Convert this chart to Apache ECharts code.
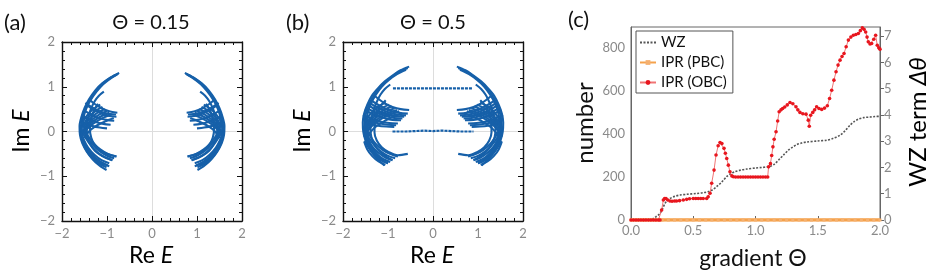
<!DOCTYPE html>
<html><head><meta charset="utf-8">
<script src="https://cdn.jsdelivr.net/npm/echarts@6/dist/echarts.min.js"></script>
<style>html,body{margin:0;padding:0;background:#fff}#c{width:937px;height:276px}</style>
</head><body><div id="c"></div>
<script>
// ---------- DATA ----------
const spectrumTicks = [-2, -1, 0, 1, 2];
const thetaTicks = [0, 0.5, 1.0, 1.5, 2.0];

// Panel (a) Θ=0.15 : spectrum curves (Re E, Im E), right cluster
const specA_R = [
  [[0.73,1.31],[0.92,1.21],[1.1,1.08],[1.26,0.92],[1.4,0.72],[1.5,0.52],[1.57,0.32],[1.61,0.12],[1.6,-0.08],[1.55,-0.26],[1.45,-0.45],[1.32,-0.62],[1.17,-0.76],[1.01,-0.86]],
  [[0.75,1.29],[0.95,1.18],[1.13,1.04],[1.28,0.86],[1.41,0.66],[1.5,0.46],[1.56,0.26],[1.58,0.06],[1.56,-0.14],[1.48,-0.33],[1.37,-0.5],[1.22,-0.65],[1.05,-0.76]],
  [[0.78,1.27],[0.98,1.14],[1.15,0.99],[1.3,0.8],[1.42,0.6],[1.5,0.4],[1.55,0.2],[1.56,0.0],[1.52,-0.2],[1.43,-0.38],[1.3,-0.55],[1.14,-0.68],[0.95,-0.78]],
  [[1.07,0.89],[1.18,0.8],[1.27,0.68],[1.35,0.52],[1.42,0.32],[1.45,0.12],[1.44,-0.08],[1.38,-0.27],[1.27,-0.43],[1.1,-0.55],[0.88,-0.64]],
  [[1.2,0.62],[1.3,0.45],[1.36,0.25],[1.38,0.05],[1.35,-0.14],[1.27,-0.3],[1.12,-0.44],[0.94,-0.52],[0.79,-0.56]],
  [[0.77,0.42],[0.95,0.45],[1.12,0.52],[1.28,0.62],[1.4,0.72]],
  [[0.8,0.38],[1.0,0.4],[1.18,0.46],[1.35,0.55],[1.48,0.64]],
  [[0.79,0.33],[0.98,0.35],[1.15,0.41],[1.32,0.5],[1.46,0.6]],
  [[0.84,0.24],[1.02,0.26],[1.2,0.31],[1.37,0.39],[1.52,0.48]],
  [[0.92,0.15],[1.08,0.17],[1.25,0.21],[1.42,0.28],[1.57,0.36]],
  [[1.0,0.07],[1.16,0.09],[1.32,0.12],[1.47,0.17],[1.6,0.22]],
  [[0.85,0.3],[1.05,0.22],[1.25,0.12],[1.4,0.0],[1.5,-0.15]],
  [[0.9,0.38],[1.1,0.3],[1.3,0.18],[1.45,0.05],[1.55,-0.1]],
  [[0.95,0.42],[1.15,0.33],[1.34,0.2],[1.48,0.06],[1.56,-0.08]],
  [[1.0,0.46],[1.2,0.36],[1.38,0.22],[1.52,0.05],[1.58,-0.05]],
  [[1.05,0.5],[1.24,0.4],[1.41,0.25],[1.53,0.08]],
  [[1.1,0.55],[1.28,0.44],[1.44,0.28],[1.55,0.1]],
  [[1.15,0.6],[1.33,0.48],[1.47,0.32],[1.57,0.14]],
  [[0.79,-0.56],[0.98,-0.5],[1.15,-0.4],[1.3,-0.26],[1.42,-0.1],[1.5,0.05]],
  [[0.84,-0.6],[1.02,-0.53],[1.18,-0.43],[1.33,-0.28],[1.45,-0.12],[1.52,0.03]],
  [[0.88,-0.64],[1.06,-0.57],[1.22,-0.46],[1.36,-0.31],[1.47,-0.15],[1.55,0.0]],
  [[0.95,-0.71],[1.12,-0.64],[1.28,-0.52],[1.42,-0.36],[1.52,-0.18],[1.58,-0.02]],
  [[0.98,-0.76],[1.15,-0.68],[1.31,-0.55],[1.45,-0.38],[1.54,-0.19]],
  [[1.01,-0.8],[1.18,-0.72],[1.34,-0.58],[1.47,-0.4],[1.56,-0.2]]
];
// Panel (a) left cluster
const specA_L = [
  [[-0.73,1.31],[-0.92,1.21],[-1.1,1.08],[-1.26,0.92],[-1.4,0.72],[-1.5,0.52],[-1.57,0.32],[-1.61,0.12],[-1.6,-0.08],[-1.55,-0.26],[-1.45,-0.45],[-1.32,-0.62],[-1.17,-0.76],[-1.01,-0.86]],
  [[-0.75,1.29],[-0.95,1.18],[-1.13,1.04],[-1.28,0.86],[-1.41,0.66],[-1.5,0.46],[-1.56,0.26],[-1.58,0.06],[-1.56,-0.14],[-1.48,-0.33],[-1.37,-0.5],[-1.22,-0.65],[-1.05,-0.76]],
  [[-0.78,1.27],[-0.98,1.14],[-1.15,0.99],[-1.3,0.8],[-1.42,0.6],[-1.5,0.4],[-1.55,0.2],[-1.56,0.0],[-1.52,-0.2],[-1.43,-0.38],[-1.3,-0.55],[-1.14,-0.68],[-0.95,-0.78]],
  [[-1.07,0.89],[-1.18,0.8],[-1.27,0.68],[-1.35,0.52],[-1.42,0.32],[-1.45,0.12],[-1.44,-0.08],[-1.38,-0.27],[-1.27,-0.43],[-1.1,-0.55],[-0.88,-0.64]],
  [[-1.2,0.62],[-1.3,0.45],[-1.36,0.25],[-1.38,0.05],[-1.35,-0.14],[-1.27,-0.3],[-1.12,-0.44],[-0.94,-0.52],[-0.79,-0.56]],
  [[-0.77,0.42],[-0.95,0.45],[-1.12,0.52],[-1.28,0.62],[-1.4,0.72]],
  [[-0.8,0.38],[-1.0,0.4],[-1.18,0.46],[-1.35,0.55],[-1.48,0.64]],
  [[-0.79,0.33],[-0.98,0.35],[-1.15,0.41],[-1.32,0.5],[-1.46,0.6]],
  [[-0.84,0.24],[-1.02,0.26],[-1.2,0.31],[-1.37,0.39],[-1.52,0.48]],
  [[-0.92,0.15],[-1.08,0.17],[-1.25,0.21],[-1.42,0.28],[-1.57,0.36]],
  [[-1.0,0.07],[-1.16,0.09],[-1.32,0.12],[-1.47,0.17],[-1.6,0.22]],
  [[-0.85,0.3],[-1.05,0.22],[-1.25,0.12],[-1.4,0.0],[-1.5,-0.15]],
  [[-0.9,0.38],[-1.1,0.3],[-1.3,0.18],[-1.45,0.05],[-1.55,-0.1]],
  [[-0.95,0.42],[-1.15,0.33],[-1.34,0.2],[-1.48,0.06],[-1.56,-0.08]],
  [[-1.0,0.46],[-1.2,0.36],[-1.38,0.22],[-1.52,0.05],[-1.58,-0.05]],
  [[-1.05,0.5],[-1.24,0.4],[-1.41,0.25],[-1.53,0.08]],
  [[-1.1,0.55],[-1.28,0.44],[-1.44,0.28],[-1.55,0.1]],
  [[-1.15,0.6],[-1.33,0.48],[-1.47,0.32],[-1.57,0.14]],
  [[-0.79,-0.56],[-0.98,-0.5],[-1.15,-0.4],[-1.3,-0.26],[-1.42,-0.1],[-1.5,0.05]],
  [[-0.84,-0.6],[-1.02,-0.53],[-1.18,-0.43],[-1.33,-0.28],[-1.45,-0.12],[-1.52,0.03]],
  [[-0.88,-0.64],[-1.06,-0.57],[-1.22,-0.46],[-1.36,-0.31],[-1.47,-0.15],[-1.55,0.0]],
  [[-0.95,-0.71],[-1.12,-0.64],[-1.28,-0.52],[-1.42,-0.36],[-1.52,-0.18],[-1.58,-0.02]],
  [[-0.98,-0.76],[-1.15,-0.68],[-1.31,-0.55],[-1.45,-0.38],[-1.54,-0.19]],
  [[-1.01,-0.8],[-1.18,-0.72],[-1.34,-0.58],[-1.47,-0.4],[-1.56,-0.2]]
];

// Panel (b) Θ=0.5 : right cluster
const specB_R = [
  [[0.53,1.45],[0.72,1.37],[0.9,1.25],[1.07,1.12],[1.22,0.97],[1.36,0.8],[1.46,0.6],[1.53,0.4],[1.56,0.2],[1.55,0.0],[1.5,-0.2],[1.42,-0.37],[1.31,-0.53],[1.2,-0.65],[1.08,-0.76]],
  [[0.56,1.42],[0.76,1.33],[0.94,1.2],[1.1,1.06],[1.25,0.9],[1.37,0.71],[1.46,0.51],[1.51,0.31],[1.52,0.11],[1.5,-0.09],[1.44,-0.28],[1.34,-0.44],[1.22,-0.58],[1.05,-0.7]],
  [[0.6,1.38],[0.8,1.28],[0.98,1.15],[1.14,1.0],[1.27,0.82],[1.38,0.62],[1.45,0.42],[1.48,0.22],[1.48,0.02],[1.44,-0.18],[1.36,-0.36],[1.25,-0.5],[1.14,-0.62],[1.0,-0.71]],
  [[0.95,1.05],[1.07,0.95],[1.17,0.82],[1.25,0.66],[1.32,0.48],[1.37,0.28],[1.39,0.08],[1.37,-0.12],[1.3,-0.3],[1.18,-0.45],[1.04,-0.56],[0.9,-0.64]],
  [[1.05,0.7],[1.18,0.55],[1.26,0.38],[1.3,0.18],[1.3,-0.02],[1.25,-0.2],[1.14,-0.35],[0.98,-0.46],[0.78,-0.53],[0.56,-0.5]],
  [[0.53,0.48],[0.72,0.5],[0.9,0.55],[1.06,0.62],[1.2,0.72],[1.3,0.8]],
  [[0.56,0.4],[0.75,0.42],[0.93,0.46],[1.1,0.53],[1.26,0.62],[1.38,0.7]],
  [[0.6,0.36],[0.79,0.38],[0.97,0.42],[1.14,0.49],[1.3,0.57],[1.42,0.65]],
  [[0.64,0.33],[0.82,0.34],[1.0,0.38],[1.17,0.44],[1.33,0.52],[1.45,0.6]],
  [[0.68,0.29],[0.86,0.3],[1.04,0.34],[1.21,0.4],[1.37,0.47],[1.49,0.54]],
  [[0.71,0.25],[0.9,0.26],[1.08,0.3],[1.25,0.35],[1.4,0.42],[1.52,0.48]],
  [[0.78,0.18],[0.97,0.19],[1.15,0.22],[1.32,0.27],[1.46,0.32],[1.56,0.36]],
  [[0.82,0.14],[1.0,0.15],[1.18,0.18],[1.35,0.22],[1.5,0.27]],
  [[0.86,0.1],[1.04,0.11],[1.22,0.13],[1.38,0.17],[1.52,0.21]],
  [[0.7,0.4],[0.9,0.33],[1.1,0.22],[1.28,0.1],[1.42,-0.05],[1.5,-0.18]],
  [[0.75,0.45],[0.95,0.38],[1.15,0.28],[1.33,0.15],[1.46,0.0],[1.53,-0.12]],
  [[0.8,0.48],[1.0,0.41],[1.2,0.3],[1.37,0.16],[1.49,0.0]],
  [[0.85,0.52],[1.05,0.44],[1.25,0.32],[1.4,0.18],[1.52,0.02]],
  [[0.92,0.56],[1.11,0.47],[1.3,0.34],[1.44,0.19],[1.54,0.04]],
  [[0.98,0.6],[1.17,0.5],[1.34,0.36],[1.47,0.2],[1.55,0.06]],
  [[1.05,0.65],[1.24,0.54],[1.4,0.38],[1.51,0.22]],
  [[0.78,-0.56],[0.96,-0.5],[1.12,-0.41],[1.27,-0.28],[1.38,-0.13],[1.46,0.02]],
  [[0.84,-0.6],[1.01,-0.54],[1.17,-0.44],[1.31,-0.3],[1.42,-0.15],[1.49,0.0]],
  [[0.9,-0.64],[1.06,-0.58],[1.22,-0.47],[1.35,-0.33],[1.45,-0.17],[1.52,-0.02]],
  [[0.95,-0.68],[1.11,-0.61],[1.26,-0.5],[1.39,-0.35],[1.48,-0.18]],
  [[1.0,-0.71],[1.16,-0.64],[1.3,-0.53],[1.42,-0.38],[1.51,-0.2]],
  [[1.06,-0.75],[1.21,-0.67],[1.35,-0.55],[1.46,-0.4],[1.53,-0.22]]
];
// Panel (b) left cluster
const specB_L = [
  [[-0.53,1.45],[-0.72,1.37],[-0.9,1.25],[-1.07,1.12],[-1.22,0.97],[-1.36,0.8],[-1.46,0.6],[-1.53,0.4],[-1.56,0.2],[-1.55,0.0],[-1.5,-0.2],[-1.42,-0.37],[-1.31,-0.53],[-1.2,-0.65],[-1.08,-0.76]],
  [[-0.56,1.42],[-0.76,1.33],[-0.94,1.2],[-1.1,1.06],[-1.25,0.9],[-1.37,0.71],[-1.46,0.51],[-1.51,0.31],[-1.52,0.11],[-1.5,-0.09],[-1.44,-0.28],[-1.34,-0.44],[-1.22,-0.58],[-1.05,-0.7]],
  [[-0.6,1.38],[-0.8,1.28],[-0.98,1.15],[-1.14,1.0],[-1.27,0.82],[-1.38,0.62],[-1.45,0.42],[-1.48,0.22],[-1.48,0.02],[-1.44,-0.18],[-1.36,-0.36],[-1.25,-0.5],[-1.14,-0.62],[-1.0,-0.71]],
  [[-0.95,1.05],[-1.07,0.95],[-1.17,0.82],[-1.25,0.66],[-1.32,0.48],[-1.37,0.28],[-1.39,0.08],[-1.37,-0.12],[-1.3,-0.3],[-1.18,-0.45],[-1.04,-0.56],[-0.9,-0.64]],
  [[-1.05,0.7],[-1.18,0.55],[-1.26,0.38],[-1.3,0.18],[-1.3,-0.02],[-1.25,-0.2],[-1.14,-0.35],[-0.98,-0.46],[-0.78,-0.53],[-0.56,-0.5]],
  [[-0.53,0.48],[-0.72,0.5],[-0.9,0.55],[-1.06,0.62],[-1.2,0.72],[-1.3,0.8]],
  [[-0.56,0.4],[-0.75,0.42],[-0.93,0.46],[-1.1,0.53],[-1.26,0.62],[-1.38,0.7]],
  [[-0.6,0.36],[-0.79,0.38],[-0.97,0.42],[-1.14,0.49],[-1.3,0.57],[-1.42,0.65]],
  [[-0.64,0.33],[-0.82,0.34],[-1.0,0.38],[-1.17,0.44],[-1.33,0.52],[-1.45,0.6]],
  [[-0.68,0.29],[-0.86,0.3],[-1.04,0.34],[-1.21,0.4],[-1.37,0.47],[-1.49,0.54]],
  [[-0.71,0.25],[-0.9,0.26],[-1.08,0.3],[-1.25,0.35],[-1.4,0.42],[-1.52,0.48]],
  [[-0.78,0.18],[-0.97,0.19],[-1.15,0.22],[-1.32,0.27],[-1.46,0.32],[-1.56,0.36]],
  [[-0.82,0.14],[-1.0,0.15],[-1.18,0.18],[-1.35,0.22],[-1.5,0.27]],
  [[-0.86,0.1],[-1.04,0.11],[-1.22,0.13],[-1.38,0.17],[-1.52,0.21]],
  [[-0.7,0.4],[-0.9,0.33],[-1.1,0.22],[-1.28,0.1],[-1.42,-0.05],[-1.5,-0.18]],
  [[-0.75,0.45],[-0.95,0.38],[-1.15,0.28],[-1.33,0.15],[-1.46,0.0],[-1.53,-0.12]],
  [[-0.8,0.48],[-1.0,0.41],[-1.2,0.3],[-1.37,0.16],[-1.49,0.0]],
  [[-0.85,0.52],[-1.05,0.44],[-1.25,0.32],[-1.4,0.18],[-1.52,0.02]],
  [[-0.92,0.56],[-1.11,0.47],[-1.3,0.34],[-1.44,0.19],[-1.54,0.04]],
  [[-0.98,0.6],[-1.17,0.5],[-1.34,0.36],[-1.47,0.2],[-1.55,0.06]],
  [[-1.05,0.65],[-1.24,0.54],[-1.4,0.38],[-1.51,0.22]],
  [[-0.78,-0.56],[-0.96,-0.5],[-1.12,-0.41],[-1.27,-0.28],[-1.38,-0.13],[-1.46,0.02]],
  [[-0.84,-0.6],[-1.01,-0.54],[-1.17,-0.44],[-1.31,-0.3],[-1.42,-0.15],[-1.49,0.0]],
  [[-0.9,-0.64],[-1.06,-0.58],[-1.22,-0.47],[-1.35,-0.33],[-1.45,-0.17],[-1.52,-0.02]],
  [[-0.95,-0.68],[-1.11,-0.61],[-1.26,-0.5],[-1.39,-0.35],[-1.48,-0.18]],
  [[-1.0,-0.71],[-1.16,-0.64],[-1.3,-0.53],[-1.42,-0.38],[-1.51,-0.2]],
  [[-1.06,-0.75],[-1.21,-0.67],[-1.35,-0.55],[-1.46,-0.4],[-1.53,-0.22]]
];
// Panel (b) edge-state bands (horizontal lines)
const specB_bands = [
  [[-0.89,0.965],[-0.5,0.965],[0.0,0.965],[0.5,0.965],[0.88,0.965]],
  [[-0.9,0.0],[-0.6,0.0],[-0.4,0.01],[-0.2,0.02],[0.0,0.01],[0.2,0.02],[0.4,0.01],[0.6,0.0],[0.9,0.0]]
];

// Panel (c): [gradient Θ, value]
const wzData = [[0,0],[0.05,0],[0.1,0.01],[0.15,0.03],[0.18,0.06],[0.2,0.12],[0.233,0.25],[0.255,0.45],[0.273,0.63],[0.29,0.74],[0.313,0.82],[0.35,0.9],[0.394,0.95],[0.45,0.98],[0.527,1.01],[0.58,1.04],[0.62,1.08],[0.655,1.15],[0.688,1.27],[0.73,1.45],[0.768,1.65],[0.8,1.76],[0.835,1.84],[0.88,1.9],[0.93,1.94],[1.0,1.98],[1.05,2.0],[1.09,2.02],[1.116,2.04],[1.15,2.12],[1.197,2.34],[1.23,2.5],[1.264,2.66],[1.3,2.78],[1.331,2.87],[1.37,2.93],[1.411,2.97],[1.5,3.01],[1.572,3.04],[1.62,3.1],[1.679,3.23],[1.72,3.4],[1.759,3.61],[1.79,3.74],[1.826,3.84],[1.87,3.9],[1.92,3.92],[1.96,3.94],[2.0,3.95]];
const pbcData = [[0,0],[0.05,0],[0.1,0],[0.15,0],[0.2,0],[0.25,0],[0.3,0],[0.35,0],[0.4,0],[0.45,0],[0.5,0],[0.55,0],[0.6,0],[0.65,0],[0.7,0],[0.75,0],[0.8,0],[0.85,0],[0.9,0],[0.95,0],[1.0,0],[1.05,0],[1.1,0],[1.15,0],[1.2,0],[1.25,0],[1.3,0],[1.35,0],[1.4,0],[1.45,0],[1.5,0],[1.55,0],[1.6,0],[1.65,0],[1.7,0],[1.75,0],[1.8,0],[1.85,0],[1.9,0],[1.95,0],[2.0,0]];
const obcData = [[0,0],[0.02,0],[0.04,0],[0.06,0],[0.08,0],[0.1,0],[0.12,0],[0.14,0],[0.16,0],[0.18,0],[0.2,0],[0.22,0],[0.233,0],[0.246,46],[0.26,93],[0.27,100],[0.281,100],[0.295,93],[0.313,88],[0.33,87],[0.35,88],[0.366,88],[0.39,90],[0.42,93],[0.447,96],[0.47,99],[0.5,100],[0.52,100],[0.54,100],[0.56,100],[0.58,100],[0.608,100],[0.62,108],[0.635,124],[0.648,171],[0.667,232],[0.683,302],[0.7,345],[0.715,360],[0.73,355],[0.747,333],[0.758,310],[0.769,286],[0.782,255],[0.795,224],[0.81,205],[0.822,201],[0.84,200],[0.86,200],[0.88,200],[0.9,200],[0.92,200],[0.94,200],[0.96,200],[0.98,200],[1.0,200],[1.02,200],[1.04,200],[1.06,200],[1.08,200],[1.098,200],[1.105,247],[1.12,262],[1.13,300],[1.14,340],[1.15,375],[1.165,410],[1.178,460],[1.19,503],[1.205,512],[1.218,518],[1.235,525],[1.255,535],[1.277,546],[1.3,540],[1.325,526],[1.34,512],[1.357,500],[1.38,494],[1.406,492],[1.424,464],[1.432,436],[1.443,487],[1.46,500],[1.475,512],[1.491,526],[1.51,518],[1.532,514],[1.555,520],[1.577,531],[1.595,565],[1.612,603],[1.63,650],[1.647,689],[1.663,720],[1.679,743],[1.695,760],[1.711,774],[1.728,805],[1.746,836],[1.766,850],[1.786,859],[1.806,862],[1.826,867],[1.842,880],[1.858,893],[1.872,886],[1.885,874],[1.896,850],[1.906,828],[1.92,818],[1.933,820],[1.95,840],[1.965,859],[1.978,812],[1.99,800],[2.0,794]];
const seriesNames = ['WZ', 'IPR (PBC)', 'IPR (OBC)'];

// ---------- STYLE ----------
const FONT = 'Lato, "Open Sans", sans-serif';
const BLUE = '#1660a9';
const TICKGRAY = '#8a8a8a';
const minus = v => (v < 0 ? '\u2212' + Math.abs(v) : String(v));

function specAxes(gi, isX) {
  const common = {
    gridIndex: gi, type: 'value', min: -2, max: 2, interval: 1,
    axisLine: { show: true, onZero: false, lineStyle: { color: '#111', width: 1.4 } },
    axisTick: { show: true, inside: true, length: 5, lineStyle: { color: '#111' } },
    minorTick: { show: true, splitNumber: 5, length: 3, lineStyle: { color: '#111' } },
    splitLine: { show: false }, minorSplitLine: { show: false }
  };
  const main = Object.assign({}, common, {
    position: isX ? 'bottom' : 'left',
    axisLabel: { color: TICKGRAY, fontSize: 13, fontFamily: FONT, margin: isX ? 6 : 7, formatter: minus }
  });
  const opp = Object.assign({}, common, {
    position: isX ? 'top' : 'right', axisLabel: { show: false }
  });
  return [main, opp];
}

function curveSeries(curves, xi, yi) {
  return curves.map(c => ({
    type: 'line', xAxisIndex: xi, yAxisIndex: yi, data: c,
    showSymbol: false, silent: true, smooth: 0.3,
    lineStyle: { color: BLUE, width: 2.1 }, z: 3
  }));
}
function zeroLines(xi, yi) {
  return {
    type: 'line', xAxisIndex: xi, yAxisIndex: yi, data: [], silent: true, z: 0,
    markLine: { silent: true, symbol: 'none', label: { show: false }, z: 0,
      lineStyle: { color: '#dddddd', width: 1, type: 'solid' },
      data: [{ xAxis: 0 }, { yAxis: 0 }] }
  };
}

const [axb, axt] = specAxes(0, true), [ayl, ayr] = specAxes(0, false);
const [bxb, bxt] = specAxes(1, true), [byl, byr] = specAxes(1, false);
const richName = size => ({
  n: { fontSize: size, fontFamily: FONT, color: '#111' },
  i: { fontSize: size, fontFamily: FONT, fontStyle: 'italic', color: '#111' }
});

const option = {
  animation: false,
  textStyle: { fontFamily: FONT },
  grid: [
    { left: 62, top: 42, width: 180, height: 179 },
    { left: 343, top: 42, width: 180, height: 179 },
    { left: 631, top: 27, width: 249, height: 193, show: true, borderColor: '#666', borderWidth: 1 }
  ],
  xAxis: [axb, axt, bxb, bxt, {
    gridIndex: 2, type: 'value', min: 0, max: 2, interval: 0.5,
    axisLine: { show: true, onZero: false, lineStyle: { color: '#666', width: 1 } },
    axisTick: { show: true, inside: true, length: 4, lineStyle: { color: '#666' } },
    axisLabel: { color: TICKGRAY, fontSize: 13, fontFamily: FONT, margin: 4, formatter: v => v.toFixed(1) },
    splitLine: { show: false }
  }],
  yAxis: [ayl, ayr, byl, byr, {
    gridIndex: 2, type: 'value', min: 0, max: 897, interval: 200,
    axisLine: { show: true, onZero: false, lineStyle: { color: '#666', width: 1 } },
    axisTick: { show: false },
    axisLabel: { color: TICKGRAY, fontSize: 13, fontFamily: FONT, margin: 6, showMaxLabel: false },
    splitLine: { show: false }
  }, {
    gridIndex: 2, type: 'value', min: 0, max: 7.35, interval: 1, position: 'right',
    axisLine: { show: true, onZero: false, lineStyle: { color: '#666', width: 1 } },
    axisTick: { show: true, length: 4, lineStyle: { color: '#666' } },
    axisLabel: { color: TICKGRAY, fontSize: 13, fontFamily: FONT, margin: 4, showMaxLabel: false },
    splitLine: { show: false }
  }],
  legend: {
    left: 636, top: 31, orient: 'vertical',
    data: [
      { name: seriesNames[0], itemStyle: { opacity: 0 } },
      { name: seriesNames[1] },
      { name: seriesNames[2] }
    ],
    backgroundColor: '#fff', borderColor: '#555', borderWidth: 1,
    padding: [4, 6, 3, 3], itemGap: 5, itemWidth: 16, itemHeight: 6,
    textStyle: { fontSize: 15, color: '#111', fontFamily: FONT }
  },
  graphic: [
    { type: 'text', x: 4, y: 23, style: { text: '(a)', font: '22px ' + FONT, fill: '#111', textVerticalAlign: 'middle' } },
    { type: 'text', x: 151, y: 23, style: { text: '\u0398 = 0.15', font: '20px ' + FONT, fill: '#111', textAlign: 'center', textVerticalAlign: 'middle' } },
    { type: 'text', x: 286, y: 23, style: { text: '(b)', font: '22px ' + FONT, fill: '#111', textVerticalAlign: 'middle' } },
    { type: 'text', x: 433, y: 23, style: { text: '\u0398 = 0.5', font: '20px ' + FONT, fill: '#111', textAlign: 'center', textVerticalAlign: 'middle' } },
    { type: 'text', x: 568, y: 20, style: { text: '(c)', font: '22px ' + FONT, fill: '#111', textVerticalAlign: 'middle' } },
    { type: 'text', x: 151, y: 256, style: { text: '{n|Re }{i|E}', textAlign: 'center', textVerticalAlign: 'middle', rich: richName(23) } },
    { type: 'text', x: 432, y: 256, style: { text: '{n|Re }{i|E}', textAlign: 'center', textVerticalAlign: 'middle', rich: richName(23) } },
    { type: 'text', x: 22, y: 131, rotation: Math.PI / 2, style: { text: '{n|Im }{i|E}', textAlign: 'center', textVerticalAlign: 'middle', rich: richName(23) } },
    { type: 'text', x: 303, y: 131, rotation: Math.PI / 2, style: { text: '{n|Im }{i|E}', textAlign: 'center', textVerticalAlign: 'middle', rich: richName(23) } },
    { type: 'text', x: 585, y: 123, rotation: Math.PI / 2, style: { text: 'number', font: '24px ' + FONT, fill: '#111', textAlign: 'center', textVerticalAlign: 'middle' } },
    { type: 'text', x: 918, y: 122, rotation: Math.PI / 2, style: { text: '{n|WZ term }{i|\u0394\u03b8}', textAlign: 'center', textVerticalAlign: 'middle', rich: richName(24) } },
    { type: 'text', x: 753, y: 259, style: { text: 'gradient \u0398', font: '23px ' + FONT, fill: '#111', textAlign: 'center', textVerticalAlign: 'middle' } }
  ],
  series: [].concat(
    [zeroLines(0, 0), zeroLines(2, 2)],
    curveSeries(specA_R, 0, 0), curveSeries(specA_L, 0, 0),
    curveSeries(specB_R, 2, 2), curveSeries(specB_L, 2, 2),
    specB_bands.map(c => ({
      type: 'line', xAxisIndex: 2, yAxisIndex: 2, data: c, showSymbol: false, silent: true,
      lineStyle: { color: BLUE, width: 2.2, type: [3, 1] }, z: 10
    })),
    [
      { name: seriesNames[0], type: 'line', xAxisIndex: 4, yAxisIndex: 5, data: wzData, smooth: 0.3,
        showSymbol: false, symbol: 'none', lineStyle: { color: '#555', width: 1.6, type: [2, 1.5] }, itemStyle: { color: '#555' }, z: 4 },
      { name: seriesNames[1], type: 'line', xAxisIndex: 4, yAxisIndex: 4, data: pbcData,
        symbol: 'rect', symbolSize: 3, showSymbol: true, lineStyle: { color: '#f5a24c', width: 3.5 }, itemStyle: { color: '#f4b070' }, z: 5 },
      { name: seriesNames[2], type: 'line', xAxisIndex: 4, yAxisIndex: 4, data: obcData,
        symbol: 'circle', symbolSize: 3.6, showSymbol: true, lineStyle: { color: '#f07575', width: 1 }, itemStyle: { color: '#e8161e' }, z: 6 }
    ]
  )
};

const chart = echarts.init(document.getElementById('c'), null, { renderer: 'canvas' });
chart.setOption(option);
</script>
</body></html>
